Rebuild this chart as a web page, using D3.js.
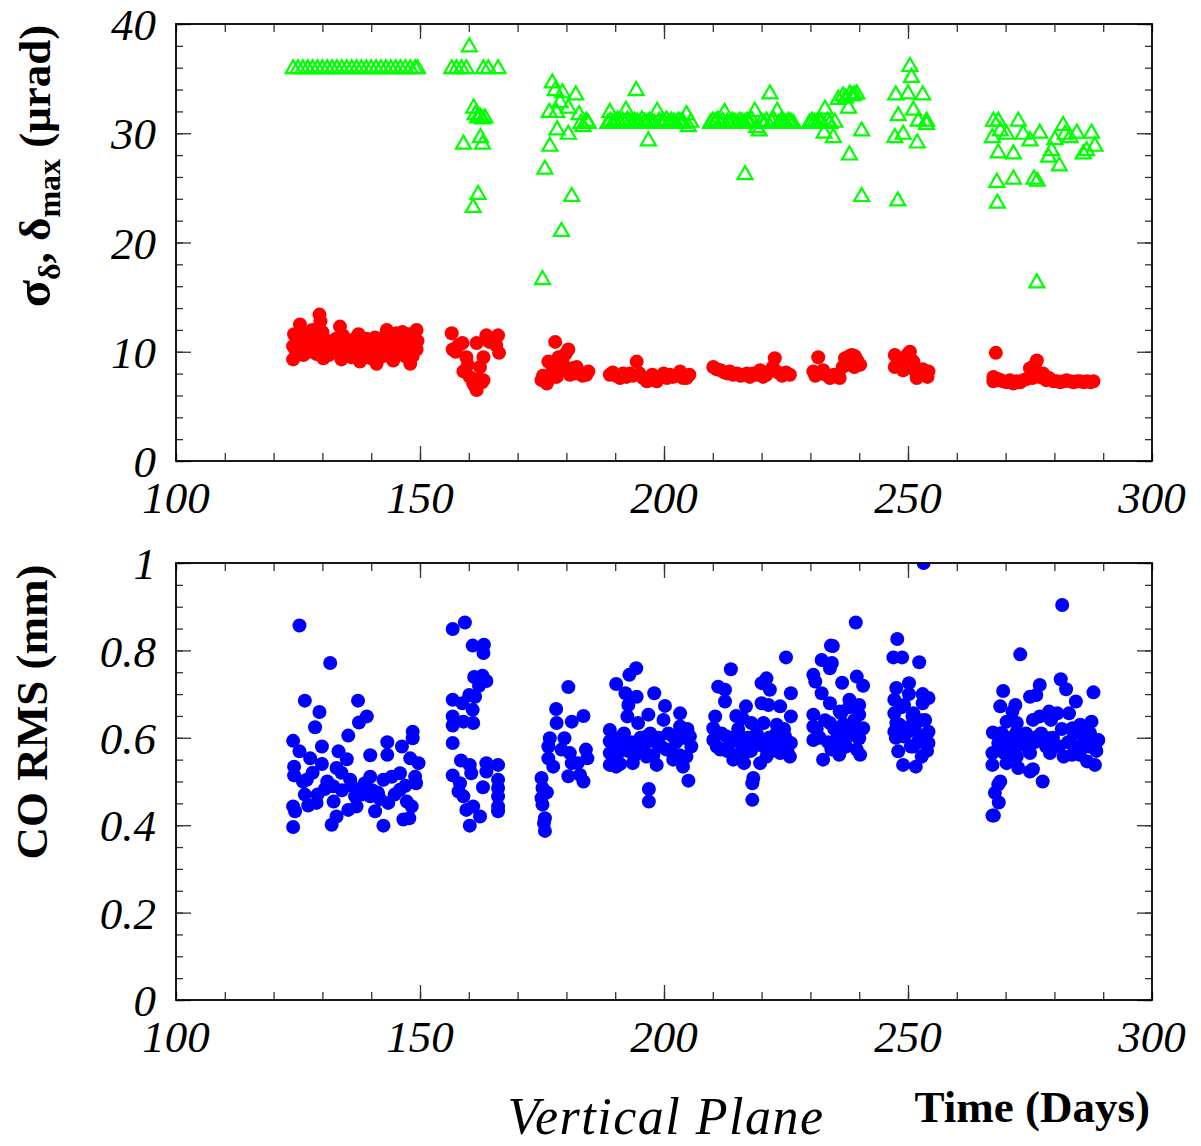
<!DOCTYPE html>
<html><head><meta charset="utf-8">
<script src="https://cdn.jsdelivr.net/npm/d3@7"></script>
<style>body{margin:0;background:#fff}</style>
</head><body>
<svg id="c" width="1201" height="1146"></svg>
<script>
// ---------------- DATA ----------------
const xTickVals = [100,150,200,250,300];
const topYTicks = [0,10,20,30,40];
const botYTicks = [0,0.2,0.4,0.6,0.8,1];
const botYTickLabels = ["0","0.2","0.4","0.6","0.8","1"];

// delta_max (green triangles), micro-rad
const deltaMaxDays = [124,125,126,127,128,129,130,131,132,133,134,135,136,137,138,139,140,141,142,143,144,145,146,147,148,149,149.5,
 156.5,157.5,158.5,159.5,160.1,158.9,161.0,161.3,161.8,162.3,162.8,163.3,162.4,162.8,161.9,160.9,163.0,164.0,166.0,
 177.1,177.7,179.2,181.9,178.7,180.4,176.5,178.0,182.6,184.1,183.4,178.1,180.4,176.6,175.6,181.1,179.0,175.1,183.0,184.5,
 188.5,189.0,189.5,190.0,190.5,191.0,191.5,192.0,192.2,192.5,193.0,193.5,194.0,194.5,195.0,195.5,196.0,196.5,197.0,197.5,198.0,198.6,199.0,199.5,200.0,200.5,201.0,201.5,202.0,202.5,203.0,203.5,204.0,204.6,205.0,205.5,188.9,194.3,196.8,
 209.5,210.0,210.5,211.0,211.5,212.0,212.4,213.0,213.5,214.0,214.5,215.0,215.5,216.0,216.5,217.0,217.5,218.0,218.6,219.0,219.5,220.0,220.5,221.0,221.7,222.0,222.5,223.2,223.5,224.0,224.5,225.0,225.5,226.0,226.5,216.6,
 229.8,230.3,230.8,231.3,231.8,232.3,232.8,233.0,233.5,234.0,234.7,235.0,235.7,236.7,237.2,237.8,238.1,238.6,239.0,239.5,238.0,240.5,240.5,
 250.4,250.7,247.5,250.0,253.0,248.0,251.1,252.1,253.8,247.3,249.0,251.9,247.9,253.8,
 267.5,268.5,267.3,268.9,268.5,268.2,268.3,272.6,270.2,271.6,271.6,275.0,273.6,277.0,275.8,276.5,276.4,280.1,278.8,279.4,281.0,282.2,283.2,284.6,285.9,287.6,288.3,286.6,281.8];
const deltaMaxVals = [36,36,36,36,36,36,36,36,36,36,36,36,36,36,36,36,36,36,36,36,36,36,36,36,36,36,36,
 36,36,36,36,38.0,29.1,32.4,31.8,31.5,31.6,31.4,31.5,29.7,29.1,24.5,23.3,36,36,36,
 34.7,34.0,33.8,33.6,32.9,32.4,32.0,32.0,31.8,31.2,30.7,30.4,30.0,28.9,26.8,24.3,21.1,16.7,31.0,31.0,
 31.0,31.2,31.0,31.1,31.3,31.0,31.2,31.0,32.2,31.3,31.1,31.0,31.2,31.1,31.0,31.3,31.1,31.0,31.2,31.1,31.0,32.1,31.2,31.0,31.1,31.3,31.0,31.2,31.1,31.0,31.2,31.1,31.0,31.8,30.7,31.1,32.0,34.0,29.4,
 31.0,31.2,31.1,31.3,31.0,31.2,32.0,31.1,31.0,31.2,31.1,31.0,31.2,31.1,31.0,31.2,31.1,31.3,32.1,30.6,30.3,31.1,31.0,31.2,33.7,31.1,31.3,32.1,31.0,31.2,31.1,31.0,31.2,31.1,31.0,26.3,
 31.0,31.2,31.1,31.0,31.2,31.1,30.1,32.3,31.2,31.0,29.7,31.1,33.2,33.5,33.3,32.4,33.7,33.5,33.6,33.7,28.1,30.3,24.3,
 36.2,35.2,33.6,33.7,33.6,31.7,32.2,31.2,30.9,29.7,30.0,29.2,23.9,31.2,
 31.2,31.2,29.7,30.3,28.3,25.6,23.7,31.2,30.0,28.2,25.9,29.4,30.0,30.1,25.9,25.7,16.4,29.5,27.9,28.5,27.1,30.0,29.7,30.1,28.2,30.1,28.9,28.5,30.8];

// sigma_delta (red circles), micro-rad
const sigmaDays = [124.0,124.0,124.2,125.4,125.8,126.1,126.8,127.5,127.9,128.5,129.0,129.4,129.6,130.2,130.6,131.0,131.6,132.2,132.8,133.6,133.9,134.5,135.0,135.6,136.3,136.8,137.7,138.2,138.8,139.3,139.8,140.4,141.1,141.6,142.2,142.8,143.2,143.8,144.5,144.9,145.2,145.8,146.4,146.9,147.4,148.0,148.3,148.7,149.3,149.3,149.5,
 124.6,125.2,126.5,127.2,128.0,128.8,130.0,131.3,132.5,133.2,134.2,135.3,136.0,137.0,137.4,138.5,139.0,140.0,140.8,141.4,142.5,143.5,144.2,145.5,146.0,147.0,147.7,148.5,149.0,
 156.5,156.7,157.3,157.9,158.7,158.9,159.5,159.8,160.2,160.9,161.3,161.6,161.6,162.0,162.3,162.7,163.0,163.0,163.6,164.2,164.8,166.0,166.2,165.6,
 174.9,175.2,176.0,176.3,176.8,177.2,177.7,178.0,178.4,178.7,179.3,179.8,180.4,180.7,181.2,181.7,182.1,182.7,183.3,184.1,184.5,
 188.9,189.5,190.2,191.0,191.6,192.3,193.0,193.6,194.4,195.0,195.7,196.5,197.0,197.6,198.5,199.2,199.9,200.6,201.2,201.8,202.5,203.3,203.9,204.6,205.2,
 210.1,210.8,211.6,212.4,213.1,213.5,214.2,215.0,215.7,216.4,217.0,217.6,218.3,219.0,219.7,220.3,221.0,221.6,222.3,222.7,223.4,224.2,225.0,225.8,
 230.6,231.0,231.6,232.1,232.6,233.2,234.0,234.8,235.4,236.0,236.6,237.1,237.6,238.0,238.5,239.1,239.6,240.2,239.0,
 247.3,247.3,247.9,248.5,249.0,249.4,250.0,250.4,250.8,251.1,251.5,251.8,252.4,253.0,253.6,254.2,254.0,
 267.5,267.5,268.0,268.4,269.0,269.5,270.2,270.9,271.6,272.3,273.0,273.6,274.3,275.0,275.5,276.0,276.4,276.9,277.7,278.3,278.9,279.8,280.5,281.2,281.9,282.5,283.2,283.9,284.6,285.3,286.0,286.7,287.4,288.0];
const sigmaVals = [9.3,10.5,11.6,12.5,11.2,9.7,10.9,10.8,12.0,10.2,11.3,13.4,12.8,9.4,10.5,11.0,10.5,10.0,11.2,12.3,9.3,10.6,10.9,9.8,11.1,10.3,9.1,10.0,10.7,9.5,10.8,10.2,8.9,9.9,10.4,11.4,12.0,10.0,9.2,10.8,11.7,10.4,11.8,9.6,11.0,8.9,10.3,11.6,10.2,12.0,11.0,
 10.0,10.8,11.6,10.0,11.0,9.8,11.8,9.7,10.9,10.2,11.5,10.2,9.5,10.8,11.6,9.6,11.2,9.4,11.3,10.6,9.6,10.8,11.2,9.8,10.9,10.3,11.6,9.6,10.8,
 11.7,10.2,10.0,10.6,10.8,8.2,9.5,8.8,7.7,7.1,6.8,6.5,10.8,7.5,8.6,7.2,7.4,9.5,11.5,10.9,11.2,11.5,9.9,10.6,
 7.4,7.8,7.1,9.1,7.6,8.6,10.9,7.7,9.5,8.3,8.9,9.8,10.2,7.9,8.5,8.0,8.6,8.1,7.8,7.9,8.2,
 7.9,8.1,7.8,7.6,8.0,7.7,8.0,7.8,9.1,8.0,7.6,7.3,7.6,7.9,7.3,7.7,8.0,7.6,7.9,7.7,7.8,8.2,7.6,7.6,7.9,
 8.6,8.4,8.3,8.1,8.0,8.2,7.9,8.0,7.8,7.9,8.0,7.7,8.0,7.9,8.3,7.7,7.9,8.2,8.6,9.4,8.1,7.8,8.1,7.9,
 8.2,7.8,9.5,8.0,8.3,7.9,7.6,7.9,7.7,7.6,8.6,9.4,8.8,9.6,9.7,9.6,9.2,8.8,8.6,
 9.7,8.6,9.2,8.8,8.3,9.5,9.8,10.0,9.2,9.1,8.2,7.6,8.0,8.4,7.9,8.2,7.7,
 7.7,7.3,9.9,7.5,7.4,7.3,7.2,7.4,7.1,7.3,7.2,7.4,7.5,8.5,7.6,8.8,9.2,7.7,8.0,7.4,7.6,7.3,7.3,7.2,7.3,7.4,7.3,7.2,7.3,7.3,7.2,7.3,7.2,7.3];

// CO RMS (blue circles), mm
const coRmsDays = [125.3,131.6,126.4,129.4,128.5,137.3,137.5,139.1,135.3,124.0,125.3,124.2,124.2,129.9,127.5,129.9,133.3,132.9,135.0,139.8,143.3,143.3,146.3,148.5,148.5,148.0,149.7,149.2,149.0,124.0,124.4,124.0,126.4,127.1,128.8,126.8,130.5,132.2,131.9,132.9,132.3,135.3,135.7,136.7,137.0,138.7,139.8,140.8,142.5,141.4,142.5,144.2,143.5,145.9,146.6,147.8,147.3,148.3,145.9,139.8,137.8,
 126.0,128.0,131.0,134.0,136.0,138.0,140.2,141.8,144.8,147.0,129.0,133.9,
 156.7,159.2,160.8,163.1,163.0,161.1,162.8,163.6,162.1,160.1,161.3,158.7,160.8,156.7,156.7,156.7,158.9,160.9,156.7,158.4,160.2,160.5,156.7,163.6,163.6,166.0,162.9,166.0,166.0,166.0,166.0,166.0,158.2,157.9,158.9,159.5,160.9,162.3,160.2,
 174.9,175.1,176.0,174.9,175.1,175.6,175.4,175.6,177.9,180.4,178.0,181.1,183.5,176.6,176.3,179.6,179.0,176.3,177.3,180.7,181.1,184.0,184.3,182.3,180.4,183.5,182.8,
 194.3,192.9,190.2,192.1,194.4,192.7,198.0,200.2,203.3,196.8,192.5,199.9,188.9,188.9,188.9,188.9,190.2,194.7,191.3,193.6,196.4,198.5,201.9,205.3,205.6,204.6,203.3,193.6,198.5,201.9,203.9,205.0,196.9,196.9,195.7,200.5,190.6,196.4,
 189.5,190.8,191.8,192.6,193.3,194.0,195.2,195.9,197.2,197.8,198.9,199.4,200.9,201.4,202.5,203.2,204.0,204.8,189.9,191.0,
 213.7,211.1,212.5,212.5,210.5,210.1,210.1,211.5,212.8,214.2,216.8,216.1,217.9,215.6,218.3,216.1,216.4,218.3,218.1,218.1,221.0,220.0,221.7,220.0,221.4,223.8,220.4,223.1,219.7,222.4,224.8,221.0,219.7,223.8,225.8,225.0,226.0,226.0,226.0,213.5,
 210.8,211.8,212.9,213.9,214.6,215.2,216.0,217.2,217.8,219.0,220.4,221.5,222.2,223.0,224.0,224.6,225.3,214.8,
 234.2,232.3,234.0,230.6,231.0,232.3,234.0,230.6,230.6,230.6,232.6,234.3,234.0,234.3,239.3,234.6,234.4,236.5,239.5,240.8,238.0,240.0,236.3,240.0,238.8,240.8,236.3,237.6,240.0,235.3,239.5,240.2,236.3,235.9,
 231.3,231.9,233.0,233.6,234.9,235.5,236.9,237.3,238.4,239.0,239.8,240.4,236.0,237.9,
 253.2,247.8,247.0,248.8,252.3,250.2,247.6,250.2,253.0,247.2,254.2,249.2,253.0,247.2,251.1,253.5,247.6,250.4,247.2,254.2,249.2,252.3,254.2,251.1,248.0,252.8,249.0,251.6,
 247.5,248.3,249.6,250.6,251.4,252.0,252.7,253.4,248.6,250.9,253.9,
 281.6,273.0,281.3,277.0,269.5,288.0,276.3,282.4,275.0,284.4,268.9,272.0,271.4,278.9,280.6,283.0,277.0,275.6,279.3,270.2,287.6,285.3,272.3,283.7,267.4,269.2,272.3,285.2,287.3,276.6,278.9,289.0,273.6,288.4,268.5,271.2,273.9,281.0,285.2,267.3,269.7,272.3,275.0,279.1,281.9,283.6,286.7,288.3,267.3,270.2,272.6,275.6,277.6,275.0,268.5,268.9,267.8,267.6,267.3,268.6,
 269.8,270.8,271.8,272.8,274.2,274.8,276.0,277.3,278.3,279.7,280.3,281.5,282.8,284.0,284.9,286.2,287.0,288.6];
const coRmsVals = [0.857,0.771,0.685,0.659,0.624,0.685,0.635,0.649,0.605,0.593,0.569,0.534,0.514,0.580,0.553,0.540,0.569,0.531,0.551,0.560,0.590,0.561,0.580,0.614,0.599,0.553,0.542,0.496,0.511,0.443,0.432,0.396,0.470,0.445,0.451,0.504,0.483,0.489,0.401,0.420,0.454,0.435,0.504,0.466,0.443,0.496,0.511,0.432,0.399,0.474,0.504,0.511,0.451,0.519,0.413,0.416,0.454,0.443,0.481,0.466,0.481,
 0.50,0.52,0.50,0.48,0.49,0.47,0.48,0.46,0.47,0.49,0.47,0.52,
 0.849,0.864,0.811,0.813,0.794,0.739,0.742,0.730,0.719,0.698,0.694,0.679,0.664,0.687,0.649,0.628,0.637,0.634,0.588,0.548,0.538,0.519,0.514,0.542,0.523,0.538,0.487,0.504,0.485,0.466,0.443,0.432,0.496,0.477,0.466,0.435,0.443,0.420,0.399,
 0.508,0.485,0.475,0.462,0.447,0.416,0.405,0.387,0.666,0.716,0.634,0.637,0.650,0.599,0.580,0.599,0.573,0.553,0.534,0.565,0.542,0.573,0.553,0.542,0.512,0.500,0.515,
 0.759,0.744,0.723,0.702,0.694,0.675,0.702,0.673,0.656,0.653,0.649,0.641,0.618,0.592,0.565,0.538,0.534,0.634,0.603,0.588,0.603,0.588,0.603,0.603,0.580,0.557,0.626,0.542,0.538,0.550,0.534,0.502,0.483,0.454,0.573,0.573,0.565,0.557,
 0.60,0.58,0.61,0.57,0.59,0.56,0.60,0.58,0.61,0.56,0.60,0.58,0.61,0.57,0.59,0.56,0.60,0.62,0.55,0.54,
 0.757,0.717,0.710,0.683,0.649,0.622,0.595,0.573,0.603,0.550,0.672,0.645,0.634,0.603,0.580,0.557,0.542,0.508,0.496,0.458,0.736,0.725,0.710,0.679,0.675,0.672,0.634,0.630,0.595,0.588,0.603,0.557,0.542,0.565,0.557,0.784,0.702,0.649,0.588,0.588,
 0.58,0.61,0.57,0.60,0.56,0.62,0.58,0.60,0.57,0.61,0.58,0.60,0.57,0.61,0.58,0.62,0.57,0.65,
 0.811,0.778,0.759,0.744,0.729,0.702,0.679,0.653,0.626,0.595,0.550,0.580,0.634,0.573,0.864,0.810,0.771,0.726,0.740,0.719,0.687,0.675,0.656,0.653,0.634,0.622,0.626,0.603,0.599,0.588,0.573,0.561,0.573,0.561,
 0.62,0.60,0.64,0.59,0.62,0.60,0.63,0.58,0.61,0.64,0.60,0.62,0.66,0.67,
 1.0,0.826,0.784,0.784,0.773,0.725,0.714,0.700,0.700,0.687,0.691,0.675,0.679,0.656,0.656,0.641,0.634,0.626,0.614,0.614,0.603,0.603,0.588,0.580,0.569,0.557,0.538,0.534,
 0.60,0.63,0.61,0.58,0.62,0.59,0.64,0.60,0.67,0.65,0.57,
 0.904,0.791,0.734,0.721,0.707,0.704,0.698,0.711,0.694,0.683,0.672,0.675,0.660,0.660,0.656,0.656,0.649,0.641,0.641,0.637,0.637,0.630,0.634,0.622,0.612,0.611,0.614,0.614,0.611,0.603,0.599,0.595,0.599,0.584,0.588,0.584,0.584,0.580,0.561,0.565,0.565,0.557,0.565,0.565,0.557,0.561,0.546,0.538,0.538,0.542,0.531,0.528,0.500,0.523,0.493,0.500,0.474,0.422,0.422,0.452,
 0.58,0.60,0.57,0.59,0.61,0.57,0.59,0.61,0.58,0.60,0.58,0.62,0.59,0.61,0.58,0.60,0.58,0.57];

// ---------------- DRAWING ----------------
const svg = d3.select("#c");
const L = 176, R = 1152;
const SERIF = "Liberation Serif";
const panels = [
  {top: 24, bottom: 461, domain: [0, 40], minor: 2, ticks: topYTicks, labels: topYTicks.map(String)},
  {top: 563, bottom: 1000, domain: [0, 1], minor: 0.05, ticks: botYTicks, labels: botYTickLabels}
];
const x = d3.scaleLinear().domain([100, 300]).range([L, R]);
const xMinor = d3.range(100, 301, 10);
const tickColor = "#333";

const italicText = (parent, tx, ty, txt, anchor, size, dy) => parent.append("text")
  .attr("x", tx).attr("y", ty).attr("text-anchor", anchor).attr("dy", dy)
  .attr("font-family", SERIF).attr("font-style", "italic").attr("font-size", size)
  .attr("fill", "#000").text(txt);

panels.forEach((p, i) => {
  const y = d3.scaleLinear().domain(p.domain).range([p.bottom, p.top]);
  p.y = y;
  const g = svg.append("g");
  const yMinor = d3.range(0, Math.round(p.domain[1] / p.minor) + 1).map(k => +(k * p.minor).toFixed(4));
  const yMajor = p.ticks;
  const addAxis = (axisFn, scale, vals, len, tr) => {
    const a = g.append("g").attr("transform", tr)
      .call(axisFn(scale).tickValues(vals).tickSize(len).tickFormat(""));
    a.select(".domain").remove();
    a.selectAll("line").attr("stroke", tickColor).attr("stroke-width", 1.3);
  };
  addAxis(d3.axisTop, x, xMinor, 8, `translate(0,${p.bottom})`);
  addAxis(d3.axisTop, x, [150, 200, 250], 15, `translate(0,${p.bottom})`);
  addAxis(d3.axisBottom, x, xMinor, 8, `translate(0,${p.top})`);
  addAxis(d3.axisBottom, x, [150, 200, 250], 15, `translate(0,${p.top})`);
  addAxis(d3.axisRight, y, yMinor, 7, `translate(${L},0)`);
  addAxis(d3.axisRight, y, yMajor, 15, `translate(${L},0)`);
  addAxis(d3.axisLeft, y, yMinor, 7, `translate(${R},0)`);
  addAxis(d3.axisLeft, y, yMajor, 15, `translate(${R},0)`);

  // tick labels
  xTickVals.forEach(v => italicText(g, x(v), p.bottom + 20, String(v), "middle", 45, "0.72em"));
  yMajor.forEach((v, k) => italicText(g, L - 20, y(v), p.labels[k], "end", 45, "0.36em"));

  svg.append("clipPath").attr("id", "clip" + i).append("rect")
    .attr("x", L).attr("y", p.top).attr("width", R - L).attr("height", p.bottom - p.top);
});

const yT = panels[0].y, yB = panels[1].y;
const gTop = svg.append("g").attr("clip-path", "url(#clip0)");
gTop.selectAll("circle.sig").data(sigmaDays.map((d, k) => [d, sigmaVals[k]])).join("circle")
  .attr("class", "sig").attr("cx", d => x(d[0])).attr("cy", d => yT(d[1])).attr("r", 7).attr("fill", "#ff0000");
const tri = (cx, cy) => {
  const pth = d3.path();
  pth.moveTo(cx, cy - 7.5); pth.lineTo(cx + 7.5, cy + 5.5); pth.lineTo(cx - 7.5, cy + 5.5); pth.closePath();
  return pth.toString();
};
gTop.selectAll("path.dm").data(deltaMaxDays.map((d, k) => [d, deltaMaxVals[k]])).join("path")
  .attr("class", "dm").attr("d", d => tri(x(d[0]), yT(d[1])))
  .attr("fill", "none").attr("stroke", "#00ff00").attr("stroke-width", 2.2);

const gBot = svg.append("g").attr("clip-path", "url(#clip1)");
gBot.selectAll("circle").data(coRmsDays.map((d, k) => [d, coRmsVals[k]])).join("circle")
  .attr("cx", d => x(d[0])).attr("cy", d => yB(d[1])).attr("r", 7).attr("fill", "#0000ff");

panels.forEach(p => {
  svg.append("rect").attr("x", L).attr("y", p.top).attr("width", R - L).attr("height", p.bottom - p.top)
    .attr("fill", "none").attr("stroke", "#000").attr("stroke-width", 1.8);
});

// axis titles
const t1 = svg.append("text").attr("transform", "translate(50,166) rotate(-90)")
  .attr("text-anchor", "middle").attr("font-family", SERIF).attr("font-weight", "bold").attr("font-size", 45);
t1.append("tspan").attr("font-size", 50).text("σ");
t1.append("tspan").attr("dy", 10).attr("font-size", 32).text("δ");
t1.append("tspan").attr("dy", -10).text(", δ");
t1.append("tspan").attr("dy", 10).attr("font-size", 32).text("max");
t1.append("tspan").attr("dy", -10).text(" (μrad)");

svg.append("text").attr("transform", "translate(47,712) rotate(-90)")
  .attr("text-anchor", "middle").attr("font-family", SERIF).attr("font-weight", "bold").attr("font-size", 45)
  .text("CO RMS (mm)");

italicText(svg, 666, 1134, "Vertical Plane", "middle", 52, 0).attr("letter-spacing", 1.5);
svg.append("text").attr("x", 1150).attr("y", 1122).attr("text-anchor", "end")
  .attr("font-family", SERIF).attr("font-weight", "bold").attr("font-size", 45).text("Time (Days)");
</script>
</body></html>
